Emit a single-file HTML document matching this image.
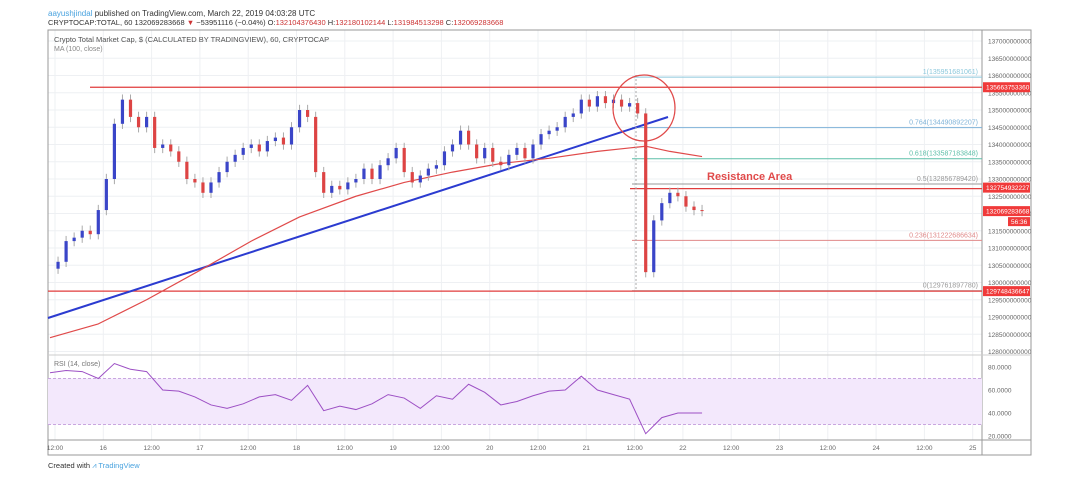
<!DOCTYPE html>
<html><head><meta charset="utf-8"><style>
body{margin:0;background:#fff;width:1080px;height:486px;overflow:hidden;font-family:"Liberation Sans",sans-serif}
svg{position:absolute;left:0;top:0}
</style></head><body>
<svg id="c" width="1080" height="486" font-family="Liberation Sans, sans-serif"></svg>
<script>
const closes=[130.4,130.6,131.2,131.3,131.5,131.4,132.1,133.0,134.6,135.3,134.8,134.5,134.8,133.9,134.0,133.8,133.5,133.0,132.9,132.6,132.9,133.2,133.5,133.7,133.9,134.0,133.8,134.1,134.2,134.0,134.5,135.0,134.8,133.2,132.6,132.8,132.7,132.9,133.0,133.3,133.0,133.4,133.6,133.9,133.2,132.9,133.1,133.3,133.4,133.8,134.0,134.4,134.0,133.6,133.9,133.5,133.4,133.7,133.9,133.6,134.0,134.3,134.4,134.5,134.8,134.9,135.3,135.1,135.4,135.2,135.3,135.1,135.2,134.9,130.3,131.8,132.3,132.6,132.5,132.2,132.1,132.07];
const maIdx=[0,6,12,19,25,31,38,44,50,56,62,68,72,74,77,81];
const maVals=[128.4,128.8,129.5,130.4,131.2,131.9,132.5,132.9,133.2,133.45,133.6,133.8,133.9,133.95,133.8,133.65];
const rsiVals=[75,77,76,70,83,78,76,60,59,54,47,44,48,54,56,51,64,42,46,43,48,56,53,44,55,52,65,58,47,50,55,59,60,72,60,56,52,22,36,40,40,40];
const priceTicks=[137,136.5,136,135.5,135,134.5,134,133.5,133,132.5,132,131.5,131,130.5,130,129.5,129,128.5,128];
const timeLabels=["12:00","16","12:00","17","12:00","18","12:00","19","12:00","20","12:00","21","12:00","22","12:00","23","12:00","24","12:00","25"];
const rsiTicks=[80,60,40,20];

const S=document.getElementById('c');const NS='http://www.w3.org/2000/svg';
function el(t,a,p){const e=document.createElementNS(NS,t);for(const k in a)e.setAttribute(k,a[k]);(p||S).appendChild(e);return e;}
const L=48,R=982,T=30,B=440;
const y=v=>41+(137-v)*34.5;
const xi=i=>50+i*8.05;
const xt=i=>55+i*48.3;
const yr=v=>367+(80-v)*23/20;

timeLabels.forEach((t,i)=>{const g=el('line',{x1:xt(i),x2:xt(i),y1:T,y2:B,stroke:'#eef0f3'});
});
priceTicks.forEach(v=>{const g=el('line',{x1:L,x2:R,y1:y(v),y2:y(v),stroke:'#eef0f3'});
});
el('rect',{x:L,y:T,width:1031-L,height:455-T,fill:'none',stroke:'#999'});
el('line',{x1:R,x2:R,y1:T,y2:455,stroke:'#999'});
el('line',{x1:L,x2:1031,y1:355,y2:355,stroke:'#ccc'});
el('line',{x1:L,x2:1031,y1:B,y2:B,stroke:'#999'});
const h=el('text',{x:48,y:16,'font-size':8,fill:'#333'});h.innerHTML='<tspan fill="#4aa3df">aayushjindal</tspan> published on TradingView.com, March 22, 2019 04:03:28 UTC';

const h2=el('text',{x:48,y:25,'font-size':7.5,fill:'#333'});h2.innerHTML='CRYPTOCAP:TOTAL, 60 132069283668 <tspan fill="#c33">▼</tspan> −53951116 (−0.04%) O:<tspan fill="#c33">132104376430</tspan> H:<tspan fill="#c33">132180102144</tspan> L:<tspan fill="#c33">131984513298</tspan> C:<tspan fill="#c33">132069283668</tspan>';

const t1=el('text',{x:54,y:42,'font-size':7.5,fill:'#555'});t1.textContent='Crypto Total Market Cap, $ (CALCULATED BY TRADINGVIEW), 60, CRYPTOCAP';

const t2=el('text',{x:54,y:51,'font-size':7,fill:'#888'});t2.textContent='MA (100, close)';

priceTicks.forEach(v=>{const t=el('text',{x:988,y:y(v)+2.5,'font-size':6.5,fill:'#666'});t.textContent=Math.round(v*1e9);
});
const fibs=[[1,135.951681061,'#8cc8dc'],[0.764,134.490892207,'#7fb3d8'],[0.618,133.587183848,'#5dbfa8'],[0.5,132.856789420,'#999'],[0.236,131.222686634,'#e08a8a'],[0,129.761897780,'#999']];
fibs.forEach(f=>{el('line',{x1:632,x2:R,y1:y(f[1]),y2:y(f[1]),stroke:f[2],'stroke-width':1});
const t=el('text',{x:978,y:y(f[1])-3,'font-size':7,fill:f[2],'text-anchor':'end'});t.textContent=f[0]+'('+Math.round(f[1]*1e9)+')';
});
[[90,135.66],[48,129.75]].forEach(a=>el('line',{x1:a[0],x2:R,y1:y(a[1]),y2:y(a[1]),stroke:'#e03c3c','stroke-width':1.2}));
el('line',{x1:630,x2:R,y1:y(132.75)+1,y2:y(132.75)+1,stroke:'#e03c3c','stroke-width':1.2});
const tl=el('line',{x1:48,y1:318,x2:668,y2:117,stroke:'#2b3bd0','stroke-width':2});

let d='';maIdx.forEach((k,i)=>d+=(i?'L':'M')+xi(k)+','+y(maVals[i]));
const ma=el('path',{d,fill:'none',stroke:'#e04a4a','stroke-width':1.2,'stroke-linejoin':'round'});

el('line',{x1:636,x2:636,y1:75,y2:290,stroke:'#aaa','stroke-dasharray':'2,2'});
closes.forEach((c,i)=>{if(i==0)return;const o=closes[i-1];const up=c>=o;const col=up?'#3a45c8':'#d44';
const hi=Math.max(o,c)+0.15,lo=Math.min(o,c)-0.15;const x=xi(i);
el('line',{x1:x,x2:x,y1:y(hi),y2:y(lo),stroke:'#aaa'});
const r=el('rect',{x:x-1.6,y:y(Math.max(o,c)),width:3.2,height:Math.max(1,Math.abs(y(o)-y(c))),fill:col});
});
const ci=el('ellipse',{cx:644,cy:108,rx:31,ry:33,fill:'none',stroke:'#e04a4a','stroke-width':1.3});

const ra=el('text',{x:707,y:180,'font-size':11,'font-weight':'bold',fill:'#e04a4a'});ra.textContent='Resistance Area';

[[135.66,'135663753360'],[132.75,'132754932227'],[132.069,'132069283668'],[129.75,'129748436647']].forEach(a=>{
el('rect',{x:983,y:y(a[0])-5,width:47,height:10,fill:'#f03a3a'});
const t=el('text',{x:986,y:y(a[0])+2.5,'font-size':6.5,fill:'#fff'});t.textContent=a[1];
});
el('rect',{x:1008,y:y(132.069)+6,width:22,height:9,fill:'#f03a3a'});
const cd=el('text',{x:1011,y:y(132.069)+13,'font-size':6.5,fill:'#fff'});cd.textContent='56:36';
el('rect',{x:L,y:yr(70),width:R-L,height:yr(30)-yr(70),fill:'#f3e8fc'});
[70,30].forEach(v=>el('line',{x1:L,x2:R,y1:yr(v),y2:yr(v),stroke:'#c9a6e0','stroke-dasharray':'3,2'}));
rsiTicks.forEach(v=>{const t=el('text',{x:988,y:yr(v)+2.5,'font-size':6.5,fill:'#666'});t.textContent=v.toFixed(4);
});
let rd='';rsiVals.forEach((v,j)=>rd+=(j?'L':'M')+Math.min(xi(2*j),xi(81))+','+yr(v));
const rl=el('path',{d:rd,fill:'none',stroke:'#9c4fc4','stroke-width':1});

const rt=el('text',{x:54,y:366,'font-size':7,fill:'#777'});rt.textContent='RSI (14, close)';

timeLabels.forEach((s,i)=>{const t=el('text',{x:xt(i),y:450,'font-size':6.5,fill:'#666','text-anchor':'middle'});t.textContent=s;
});
const ft=el('text',{x:48,y:468,'font-size':7.5,fill:'#333'});ft.innerHTML='Created with <tspan fill="#4aa3df">⩘ TradingView</tspan>';

</script>
</body></html>
